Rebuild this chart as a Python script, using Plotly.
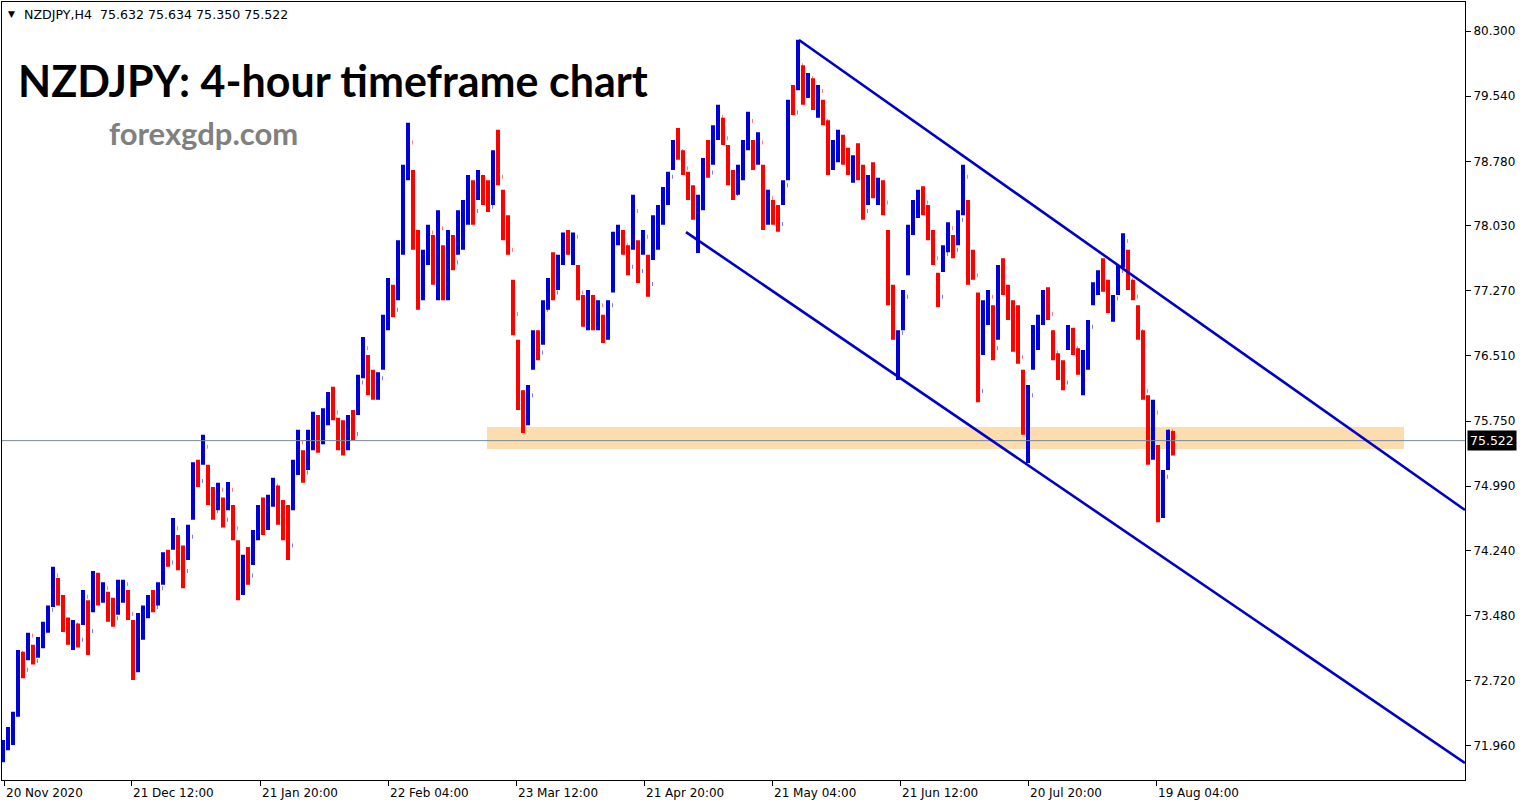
import plotly.graph_objects as go

# ---------------- data (one sample ~ 5 H4 bars) ----------------
symbol = "NZDJPY,H4"
first_open = 71.80
highs = [
    72.03, 72.18, 72.36, 73.08, 73.06, 73.28, 73.14, 73.23, 73.41, 73.60,
    74.05, 73.92, 73.72, 73.46, 73.43, 73.39, 73.78, 73.66, 74.00, 73.98,
    73.87, 73.76, 73.69, 73.90, 73.90, 73.78, 73.43, 73.51, 73.60, 73.72,
    73.78, 73.87, 74.22, 74.25, 74.62, 74.42, 74.30, 74.54, 75.27, 75.30,
    75.59, 75.24, 74.98, 75.03, 74.86, 75.04, 74.77, 74.36, 74.19, 74.28,
    74.48, 74.77, 74.86, 74.89, 75.09, 75.00, 74.83, 74.77, 75.30, 75.65,
    75.41, 75.65, 75.86, 75.82, 75.90, 76.09, 76.15, 75.79, 75.76, 75.82,
    75.88, 76.29, 76.73, 76.52, 76.35, 76.32, 76.99, 77.42, 77.34, 77.86,
    78.74, 79.23, 78.68, 77.98, 77.75, 78.04, 77.92, 78.21, 77.80, 77.98,
    77.92, 78.21, 78.33, 78.62, 78.56, 78.68, 78.62, 78.56, 78.91, 79.15,
    78.45, 78.15, 77.40, 76.70, 76.11, 76.17, 76.81, 76.81, 77.16, 77.42,
    77.72, 77.69, 77.95, 77.98, 77.95, 77.57, 77.22, 77.28, 77.22, 77.16,
    76.99, 77.16, 77.96, 78.04, 77.98, 77.80, 78.39, 77.86, 77.98, 77.69,
    78.15, 78.27, 78.48, 78.66, 79.03, 79.17, 78.91, 78.66, 78.50, 78.39,
    78.82, 79.03, 79.20, 79.44, 79.29, 78.97, 78.68, 78.74, 79.03, 79.36,
    79.03, 79.12, 78.74, 78.45, 78.33, 78.27, 78.56, 79.50, 79.67, 80.20,
    79.90, 79.81, 79.75, 79.67, 79.50, 79.26, 79.03, 79.15, 79.09, 78.94,
    78.85, 78.99, 78.74, 78.62, 78.77, 78.59, 78.56, 77.98, 77.34, 76.81,
    77.28, 78.04, 78.33, 78.45, 78.49, 78.27, 77.98, 77.48, 77.80, 78.07,
    77.92, 78.21, 78.74, 78.33, 77.75, 77.25, 77.16, 77.28, 77.10, 77.57,
    77.65, 77.34, 77.16, 77.10, 76.35, 76.17, 76.87, 76.99, 77.28, 77.31,
    76.81, 76.54, 76.46, 76.87, 76.84, 76.60, 76.58, 76.93, 77.37, 77.51,
    77.65, 77.40, 77.22, 77.57, 77.94, 77.75, 77.40, 77.10, 76.81, 76.05,
    76.00, 75.47, 75.18, 75.65, 75.634,
]
lows = [
    71.77, 71.91, 71.97, 72.30, 72.75, 72.96, 72.91, 72.99, 73.10, 73.28,
    73.58, 73.60, 73.29, 73.14, 73.08, 73.11, 73.37, 73.02, 73.52, 73.60,
    73.63, 73.41, 73.35, 73.49, 73.63, 73.43, 72.73, 72.82, 73.20, 73.45,
    73.52, 73.60, 73.84, 74.05, 74.25, 74.01, 73.80, 74.13, 74.60, 74.98,
    75.24, 74.77, 74.60, 74.71, 74.51, 74.71, 74.36, 73.66, 73.72, 73.84,
    74.07, 74.36, 74.42, 74.48, 74.75, 74.54, 74.36, 74.13, 74.71, 75.12,
    75.03, 75.18, 75.41, 75.38, 75.48, 75.70, 75.76, 75.41, 75.35, 75.41,
    75.53, 75.82, 76.25, 76.05, 76.00, 76.00, 76.35, 76.81, 76.96, 77.16,
    77.69, 78.56, 77.75, 77.05, 77.16, 77.57, 77.34, 77.16, 77.16, 77.16,
    77.51, 77.69, 77.75, 78.04, 78.04, 78.33, 78.27, 78.19, 78.27, 78.50,
    77.86, 77.69, 76.75, 75.88, 75.61, 75.70, 76.35, 76.46, 76.64, 77.05,
    77.16, 77.28, 77.57, 77.69, 77.57, 77.16, 76.85, 76.81, 76.81, 76.81,
    76.66, 76.70, 77.25, 77.80, 77.69, 77.45, 77.75, 77.36, 77.69, 77.20,
    77.63, 77.75, 78.04, 78.27, 78.68, 78.80, 78.62, 78.33, 78.10, 77.71,
    78.21, 78.59, 78.74, 79.03, 78.97, 78.50, 78.33, 78.39, 78.56, 78.91,
    78.68, 78.74, 77.98, 78.04, 78.04, 77.96, 78.27, 78.56, 79.32, 79.61,
    79.44, 79.52, 79.38, 79.29, 79.20, 78.62, 78.68, 78.77, 78.74, 78.62,
    78.53, 78.56, 78.10, 78.27, 78.35, 78.27, 78.15, 77.10, 76.70, 76.23,
    76.81, 77.45, 77.92, 78.12, 78.15, 77.86, 77.57, 77.08, 77.49, 77.72,
    77.65, 77.80, 78.15, 77.34, 77.40, 75.97, 76.52, 76.87, 76.46, 76.70,
    77.22, 76.93, 76.56, 76.42, 75.59, 75.26, 76.35, 76.58, 76.87, 76.93,
    76.46, 76.23, 76.11, 76.58, 76.52, 76.29, 76.05, 76.35, 77.10, 77.22,
    77.26, 77.01, 76.91, 77.22, 77.54, 77.28, 77.16, 76.70, 76.00, 75.24,
    75.30, 74.57, 74.62, 75.18, 75.350,
]
closes = [
    72.00, 72.15, 72.33, 73.05, 72.85, 73.25, 72.95, 73.20, 73.38, 73.55,
    73.95, 73.70, 73.35, 73.20, 73.38, 73.20, 73.70, 73.30, 73.90, 73.70,
    73.80, 73.50, 73.45, 73.80, 73.85, 73.50, 72.90, 73.35, 73.50, 73.65,
    73.58, 73.80, 74.15, 74.10, 74.50, 74.20, 74.00, 74.40, 75.15, 75.05,
    75.45, 74.90, 74.70, 74.95, 74.60, 74.95, 74.50, 73.80, 74.10, 73.95,
    74.40, 74.70, 74.55, 74.80, 75.00, 74.70, 74.45, 74.30, 75.20, 75.50,
    75.15, 75.55, 75.75, 75.50, 75.80, 76.00, 75.85, 75.50, 75.45, 75.70,
    75.60, 76.20, 76.60, 76.15, 76.10, 76.25, 76.90, 77.30, 77.05, 77.75,
    78.60, 79.00, 77.90, 77.30, 77.60, 77.95, 77.45, 78.00, 77.30, 77.85,
    77.60, 78.10, 78.25, 78.50, 78.20, 78.60, 78.35, 78.25, 78.80, 78.60,
    77.95, 77.75, 77.00, 76.00, 75.75, 76.05, 76.70, 76.55, 77.05, 77.35,
    77.25, 77.60, 77.85, 77.75, 77.90, 77.25, 76.95, 77.20, 76.90, 77.10,
    76.75, 77.10, 77.85, 77.95, 77.80, 77.55, 78.20, 77.50, 77.90, 77.35,
    78.05, 78.20, 78.40, 78.60, 78.95, 78.90, 78.70, 78.40, 78.20, 78.30,
    78.70, 78.65, 79.10, 79.30, 79.05, 78.60, 78.40, 78.65, 78.95, 79.25,
    78.80, 79.00, 78.10, 78.35, 78.10, 78.05, 78.50, 79.40, 79.35, 79.90,
    79.60, 79.75, 79.45, 79.60, 79.25, 78.75, 78.95, 79.05, 78.85, 78.70,
    78.80, 78.65, 78.20, 78.55, 78.45, 78.50, 78.30, 77.30, 76.72, 76.78,
    77.20, 77.95, 78.25, 78.40, 78.30, 77.95, 77.65, 77.20, 77.70, 78.00,
    77.75, 78.10, 78.60, 77.50, 77.45, 76.10, 77.00, 77.20, 76.60, 77.45,
    77.30, 77.00, 76.70, 76.50, 75.70, 76.05, 76.75, 76.90, 77.20, 77.00,
    76.55, 76.30, 76.20, 76.80, 76.60, 76.35, 76.50, 76.85, 77.30, 77.45,
    77.35, 77.10, 77.18, 77.50, 77.85, 77.40, 77.20, 76.80, 76.10, 75.40,
    75.85, 74.80, 75.10, 75.632, 75.522,
]
opens = [first_open] + closes[:-1]
bar_index = list(range(len(closes)))

price_ticks = [80.300, 79.540, 78.780, 78.030, 77.270, 76.510, 75.750,
               74.990, 74.240, 73.480, 72.720, 71.960]
time_labels = ["20 Nov 2020", "21 Dec 12:00", "21 Jan 20:00", "22 Feb 04:00",
               "23 Mar 12:00", "21 Apr 20:00", "21 May 04:00", "21 Jun 12:00",
               "20 Jul 20:00", "19 Aug 04:00"]
time_label_pos = [0.2, 25.6, 51.4, 77.0, 102.6, 128.2, 153.8, 179.4, 205.0, 230.6]

last_price = 75.522
zone_low, zone_high = 75.424, 75.681
zone_x = (96.8, 280.2)
upper_channel = [(159.2, 80.195), (292.4, 74.713)]
lower_channel = [(136.6, 77.955), (292.4, 71.761)]

# ---------------- layout helpers ----------------
W, H = 1529, 807
L_PX, R_PX, T_PX, B_PX = 2, 1465, 2, 780
X_RANGE = [-0.2, 292.4]
Y_RANGE = [71.563, 80.639]


def px(xp):
    return (xp - L_PX) / (R_PX - L_PX)


def py(yp):
    return (B_PX - yp) / (B_PX - T_PX)


BLUE = "#0000D8"
RED = "#FF0000"
AXIS_FONT = dict(family="DejaVu Sans", size=12, color="black")

fig = go.Figure()
fig.add_trace(go.Ohlc(
    x=bar_index, open=opens, high=highs, low=lows, close=closes,
    increasing=dict(line=dict(color=BLUE, width=4)),
    decreasing=dict(line=dict(color=RED, width=4)),
    tickwidth=0.1, hoverinfo="skip", showlegend=False,
))

shapes = [
    dict(type="rect", xref="x", yref="y", x0=zone_x[0], x1=zone_x[1],
         y0=zone_low, y1=zone_high, fillcolor="#FDDDAD",
         line=dict(width=0), layer="below"),
    dict(type="line", xref="paper", yref="y", x0=0, x1=1,
         y0=last_price, y1=last_price,
         line=dict(color="#778899", width=1), layer="above"),
    dict(type="line", xref="x", yref="y",
         x0=upper_channel[0][0], y0=upper_channel[0][1],
         x1=upper_channel[1][0], y1=upper_channel[1][1],
         line=dict(color="#0000C8", width=2.6), layer="above"),
    dict(type="line", xref="x", yref="y",
         x0=lower_channel[0][0], y0=lower_channel[0][1],
         x1=lower_channel[1][0], y1=lower_channel[1][1],
         line=dict(color="#0000C8", width=2.6), layer="above"),
]

annotations = []
# header line
annotations.append(dict(xref="paper", yref="paper", x=px(6), y=py(14),
                        xanchor="left", yanchor="middle", showarrow=False,
                        text="▼", font=dict(family="DejaVu Sans", size=9, color="black")))
annotations.append(dict(xref="paper", yref="paper", x=px(22), y=py(14),
                        xanchor="left", yanchor="middle", showarrow=False,
                        text=f"{symbol}  {opens[-1]:.3f} {highs[-1]:.3f} {lows[-1]:.3f} {closes[-1]:.3f}",
                        font=dict(family="DejaVu Sans", size=12.6, color="black")))
# title & watermark
annotations.append(dict(xref="paper", yref="paper", x=px(16), y=py(81),
                        xanchor="left", yanchor="middle", showarrow=False,
                        text="<b>NZDJPY: 4-hour timeframe chart</b>",
                        font=dict(family="Lato", size=43, color="black")))
annotations.append(dict(xref="paper", yref="paper", x=px(107), y=py(133),
                        xanchor="left", yanchor="middle", showarrow=False,
                        text="<b>forexgdp.com</b>",
                        font=dict(family="Lato", size=31, color="#808080")))
# time labels (left aligned at tick, MT4 style)
for pos, lab in zip(time_label_pos, time_labels):
    annotations.append(dict(xref="x", yref="paper", x=pos, y=py(793),
                            xanchor="left", yanchor="middle", showarrow=False,
                            xshift=0, text=lab, font=AXIS_FONT))
# current price box
annotations.append(dict(xref="paper", yref="y", x=1, y=last_price,
                        xanchor="left", yanchor="middle", showarrow=False,
                        xshift=2, text=f"{last_price:.3f}", bgcolor="black",
                        borderpad=2, font=dict(family="DejaVu Sans", size=12.5, color="white")))

fig.update_layout(
    width=W, height=H,
    margin=dict(l=L_PX, r=W - R_PX, t=T_PX, b=H - B_PX, pad=0),
    paper_bgcolor="white", plot_bgcolor="white",
    shapes=shapes, annotations=annotations,
    hovermode=False, showlegend=False,
    xaxis=dict(range=X_RANGE, showgrid=False, zeroline=False,
               rangeslider=dict(visible=False), fixedrange=True,
               tickmode="array", tickvals=time_label_pos, ticktext=[""] * len(time_label_pos),
               ticks="outside", ticklen=5, tickcolor="black",
               showline=True, linecolor="black", linewidth=1, mirror=True),
    yaxis=dict(range=Y_RANGE, side="right", showgrid=False, zeroline=False,
               tickmode="array", tickvals=price_ticks,
               ticktext=[f"{v:.3f}" for v in price_ticks],
               ticks="outside", ticklen=5, tickcolor="black", tickfont=AXIS_FONT,
               showline=True, linecolor="black", linewidth=1, mirror=True,
               fixedrange=True),
)

fig.write_html("out.html", config={"displayModeBar": False},
               post_script="document.body.style.margin='0';document.body.style.overflow='hidden';")
